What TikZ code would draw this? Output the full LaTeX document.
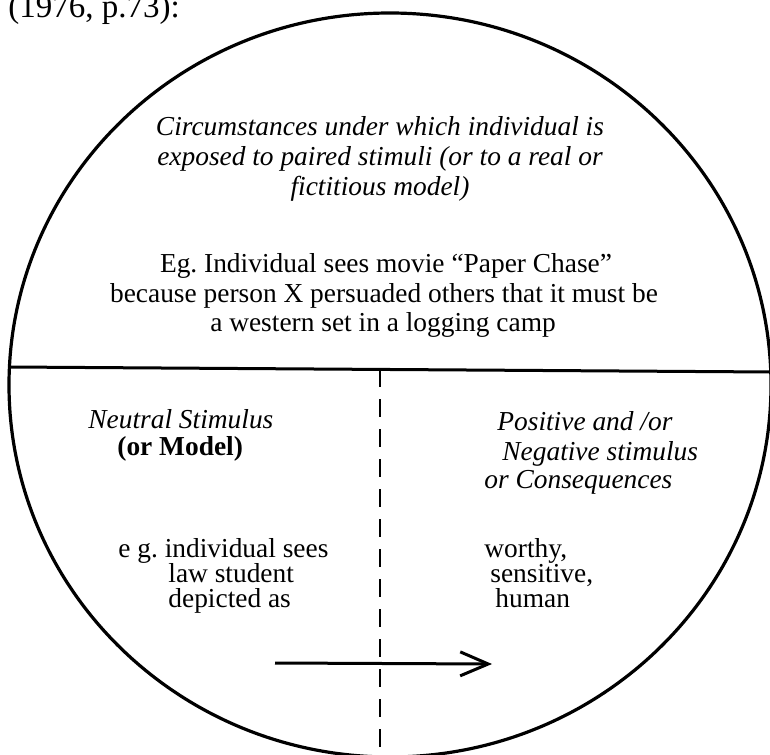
\documentclass[tikz,border=0pt]{standalone}
\usepackage{fontspec}
\setmainfont{Liberation Serif}
\usetikzlibrary{arrows.meta}
\frenchspacing
\tikzset{
  txt/.style={anchor=base, inner sep=0pt, font=\fontsize{13.7}{15}\selectfont},
  itxt/.style={txt, font=\fontsize{13.7}{15}\selectfont\itshape},
  btxt/.style={txt, font=\fontsize{13.7}{15}\selectfont\bfseries},
  rim/.style={line width=1.6pt},
  split/.style={line width=1.5pt},
  divide/.style={line width=1.3pt, dash pattern=on 9pt off 6pt},
  pairing/.style={line width=1.5pt, -{Straight Barb[length=14pt,width=12pt,line width=1.5pt]}}
}
\begin{document}
\begin{tikzpicture}[x=0.5pt, y=-0.5pt]
      \useasboundingbox (0,0) rectangle (770,754);
      \clip (0,0) rectangle (770,754);
      % caption above the figure
      \node[txt, anchor=base west, font=\fontsize{16.5}{18}\selectfont] (cite) at (8,18) {(1976, p.73):};
      % circle and its three fields
      \draw[rim] (390,385) ellipse [x radius=190.5pt, y radius=186pt];
      \coordinate (mid west) at (9,367);
      \coordinate (mid east) at (772,372);
      \coordinate (mid top) at (380,369);
      \coordinate (mid bottom) at (380,757);
      \draw[split] (mid west) -- (mid east);
      \draw[divide] (mid top) -- (mid bottom);
      % upper field
      \node[itxt] (circ1) at (380,136) {Circumstances under which individual is};
      \node[itxt] (circ2) at (380,166) {exposed to paired stimuli (or to a real or};
      \node[itxt] (circ3) at (380,196) {fictitious model)};
      \node[txt] (eg1) at (386,272) {Eg. Individual sees movie ``Paper Chase''};
      \node[txt] (eg2) at (384,302) {because person X persuaded others that it must be};
      \node[txt] (eg3) at (383,331) {a western set in a logging camp};
      % lower left field
      \node[itxt, anchor=base west] (neutral) at (88,428) {Neutral Stimulus};
      \node[btxt, anchor=base west] (model) at (117,455) {(or Model)};
      \node[txt, anchor=base west] (sees1) at (118,557) {e g. individual sees};
      \node[txt, anchor=base west] (sees2) at (168,582) {law student};
      \node[txt, anchor=base west] (sees3) at (168,607) {depicted as};
      % lower right field
      \node[itxt, anchor=base west] (pos1) at (497,430) {Positive and /or};
      \node[itxt, anchor=base west] (pos2) at (502,460) {Negative stimulus};
      \node[itxt, anchor=base west] (pos3) at (484,488) {or Consequences};
      \node[txt, anchor=base west] (worthy) at (484,557) {worthy,};
      \node[txt, anchor=base west] (sensitive) at (490,582) {sensitive,};
      \node[txt, anchor=base west] (human) at (495,607) {human};
      % pairing arrow
      \coordinate (pair from) at (275,663);
      \coordinate (pair to) at (492,664);
      \draw[pairing] (pair from) -- (pair to);
\end{tikzpicture}
\end{document}
